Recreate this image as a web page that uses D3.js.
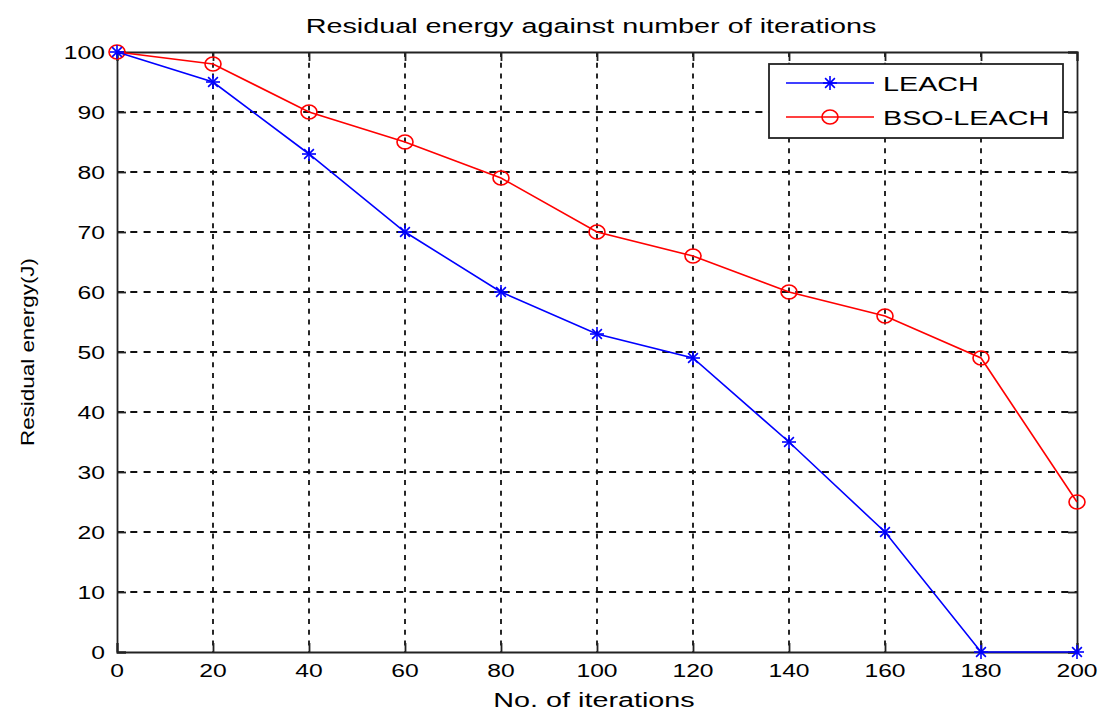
<!DOCTYPE html>
<html>
<head>
<meta charset="utf-8">
<style>
    body { margin: 0; background: #fff; }
    svg { font-family: "Liberation Sans", Arial, sans-serif; }
    .grid line { stroke: #111; stroke-width: 1.8; }
    .grid line.h { stroke-dasharray: 7,6.3; }
    .grid line.v { stroke-dasharray: 5,5.7; }
</style>
</head>
<body>
<script src="https://cdn.jsdelivr.net/npm/d3@7"></script>
<script>
    var iterations = [0, 20, 40, 60, 80, 100, 120, 140, 160, 180, 200];
    var leach = [100, 95, 83, 70, 60, 53, 49, 35, 20, 0, 0];
    var bsoLeach = [100, 98, 90, 85, 79, 70, 66, 60, 56, 49, 25];
    var xTicks = [0, 20, 40, 60, 80, 100, 120, 140, 160, 180, 200];
    var yTicks = [0, 10, 20, 30, 40, 50, 60, 70, 80, 90, 100];

    var W = 1101, H = 711,
        plotL = 117, plotR = 1077, plotT = 52, plotB = 652;

    var svg = d3.select("body").append("svg")
        .attr("width", W).attr("height", H);

    var x = d3.scaleLinear().domain([0, 200]).range([plotL, plotR]);
    var y = d3.scaleLinear().domain([0, 100]).range([plotB, plotT]);

    // stretched text helper (reference text is horizontally widened)
    function label(tx, ty, str, size, anchor, sx, rotate) {
        var g = svg.append("g").attr("transform", "translate(" + tx + "," + ty + ")" + (rotate ? " rotate(-90)" : ""));
        g.append("text")
            .attr("transform", "scale(" + sx + ",1)")
            .attr("text-anchor", anchor)
            .attr("font-size", size)
            .attr("fill", "#000")
            .text(str);
    }

    // grid
    var grid = svg.append("g").attr("class", "grid");
    grid.selectAll("line.v").data(xTicks.slice(1, -1)).enter().append("line")
        .attr("class", "v")
        .attr("x1", d => x(d)).attr("x2", d => x(d))
        .attr("y1", plotT).attr("y2", plotB);
    grid.selectAll("line.h").data(yTicks.slice(1, -1)).enter().append("line")
        .attr("class", "h")
        .attr("x1", plotL).attr("x2", plotR)
        .attr("y1", d => y(d)).attr("y2", d => y(d));

    // axes box with inward ticks
    var axisG = svg.append("g");
    var ax = [
        [d3.axisBottom(x).tickValues(xTicks).tickSize(-9), "translate(0," + plotB + ")"],
        [d3.axisTop(x).tickValues(xTicks).tickSize(-9), "translate(0," + plotT + ")"],
        [d3.axisLeft(y).tickValues(yTicks).tickSize(-9), "translate(" + plotL + ",0)"],
        [d3.axisRight(y).tickValues(yTicks).tickSize(-9), "translate(" + plotR + ",0)"]
    ];
    ax.forEach(function(a) {
        var g = axisG.append("g").attr("transform", a[1]).call(a[0].tickFormat(""));
        g.select(".domain").attr("stroke", "#222").attr("stroke-width", 1.8);
        g.selectAll(".tick line").attr("stroke", "#222").attr("stroke-width", 1.8);
    });

    xTicks.forEach(function(d) { label(x(d), 677, d, 19, "middle", 1.3); });
    yTicks.forEach(function(d) { label(plotL - 12, y(d) + 7, d, 19, "end", 1.3); });

    label(591, 33, "Residual energy against number of iterations", 21, "middle", 1.37);
    label(594, 707, "No. of iterations", 21, "middle", 1.37);
    label(34, 352, "Residual energy(J)", 19, "middle", 1.18, true);

    // lines
    var lineGen = d3.line().x((d, i) => x(iterations[i])).y(d => y(d));

    function star(g, cx, cy, color) {
        var r = 7;
        var s = g.append("g").attr("stroke", color).attr("stroke-width", 1.6);
        s.append("line").attr("x1", cx - r).attr("x2", cx + r).attr("y1", cy).attr("y2", cy);
        s.append("line").attr("x1", cx).attr("x2", cx).attr("y1", cy - r).attr("y2", cy + r);
        var k = r * 0.7;
        s.append("line").attr("x1", cx - k).attr("x2", cx + k).attr("y1", cy - k).attr("y2", cy + k);
        s.append("line").attr("x1", cx - k).attr("x2", cx + k).attr("y1", cy + k).attr("y2", cy - k);
    }
    function circ(g, cx, cy, color) {
        g.append("ellipse").attr("cx", cx).attr("cy", cy).attr("rx", 8).attr("ry", 7)
            .attr("fill", "none").attr("stroke", color).attr("stroke-width", 1.6);
    }

    svg.append("path").datum(bsoLeach).attr("d", lineGen)
        .attr("fill", "none").attr("stroke", "#ff0000").attr("stroke-width", 1.6);
    var redM = svg.append("g");
    bsoLeach.forEach((d, i) => circ(redM, x(iterations[i]), y(d), "#ff0000"));

    svg.append("path").datum(leach).attr("d", lineGen)
        .attr("fill", "none").attr("stroke", "#0000ff").attr("stroke-width", 1.6);
    var blueM = svg.append("g");
    leach.forEach((d, i) => star(blueM, x(iterations[i]), y(d), "#0000ff"));

    // legend
    var lg = svg.append("g");
    lg.append("rect").attr("x", 769).attr("y", 64).attr("width", 294).attr("height", 74)
        .attr("fill", "#fff").attr("stroke", "#222").attr("stroke-width", 1.8);
    lg.append("line").attr("x1", 786).attr("x2", 874).attr("y1", 83).attr("y2", 83)
        .attr("stroke", "#0000ff").attr("stroke-width", 1.6);
    star(lg, 830, 83, "#0000ff");
    lg.append("line").attr("x1", 786).attr("x2", 874).attr("y1", 117).attr("y2", 117)
        .attr("stroke", "#ff0000").attr("stroke-width", 1.6);
    circ(lg, 830, 117, "#ff0000");
    label(883, 91, "LEACH", 21, "start", 1.37);
    label(883, 125, "BSO-LEACH", 21, "start", 1.37);
</script>
</body>
</html>
